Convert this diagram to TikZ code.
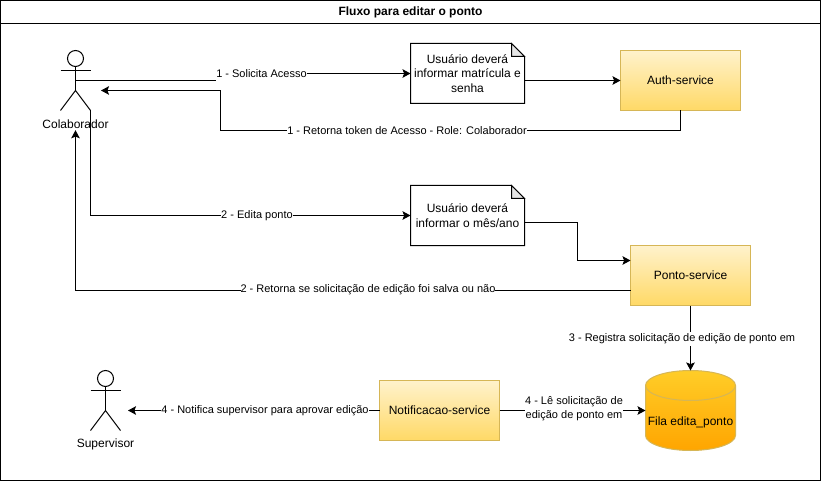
\documentclass[tikz,border=0pt]{standalone}
\usepackage{fontspec}
\setmainfont{Liberation Sans}
\usetikzlibrary{arrows.meta}
\definecolor{svctop}{HTML}{FFF2CC}
\definecolor{svcbot}{HTML}{FFD966}
\definecolor{svcline}{HTML}{D6B656}
\definecolor{filatop}{HTML}{FFCD28}
\definecolor{filabot}{HTML}{FFA500}
\begin{document}
\begin{tikzpicture}[
  x=0.75pt,
  y=-0.75pt,
  line width=0.75pt,
  frame/.style={draw=black,line width=1pt},
  svc/.style={draw=svcline,top color=svctop,bottom color=svcbot,outer sep=0pt,minimum width=90pt,minimum height=45pt,inner sep=0pt,font=\fontsize{9}{11}\selectfont},
  notebox/.style={outer sep=0pt,minimum width=85.5pt,minimum height=45pt,inner sep=0pt,align=center,font=\fontsize{9}{10.9}\selectfont},
  actorbox/.style={outer sep=0pt,minimum width=22.5pt,minimum height=45pt,inner sep=0pt},
  txt/.style={inner sep=1pt,font=\fontsize{9}{11}\selectfont},
  flow/.style={-{Stealth[length=6pt,width=6.4pt,inset=1.2pt]}},
  lab/.style={fill=white,inner sep=0pt,minimum height=10.5pt,align=center,font=\fontsize{8.25}{10.6}\selectfont}
]
\useasboundingbox (0,0) rectangle (821,481);
\fill[white] (0,0) rectangle (821,481);
\draw[frame] (0.5,0.5) rectangle (820.5,480.5);
\draw[frame] (0.5,23.5) -- (820.5,23.5);
\node[txt,font=\fontsize{9}{11}\selectfont\bfseries] (titulo) at (410.5,12) {Fluxo para editar o ponto};

\foreach \name/\px/\py/\txt in {colab/75.5/80.5/Colaborador,super/105.5/400.5/Supervisor} {
  \node[actorbox] (\name) at (\px,\py) {};
  \node[txt] (\name lab) at (\px,\py+43.5) {\txt};
  \draw (\px,\py-22) circle[radius=8];
  \draw (\px,\py-14) -- (\px,\py+10);
  \draw (\px-15,\py-10) -- (\px+15,\py-10);
  \draw (\px-15,\py+30) -- (\px,\py+10) -- (\px+15,\py+30);
}

\foreach \name/\py/\txt in {note1/73.5/{Usuário deverá\\informar matrícula e\\senha},note2/215.5/{Usuário deverá\\informar o mês/ano}} {
  \node[notebox] (\name) at (467.5,\py) {\txt};
  \draw (\name.north west) -- ++(101,0) -- ++(13,13) -- (\name.south east) -- (\name.south west) -- cycle;
  \draw[fill=black!10] (\name.north east) ++(-13,0) -- ++(0,13) -- ++(13,0) -- cycle;
}

\node[svc] (auth) at (680.5,80.5) {Auth-service};
\node[svc] (ponto) at (690.5,275.5) {Ponto-service};
\node[svc] (notif) at (439.5,410.5) {Notificacao-service};

\shadedraw[draw=svcline,top color=filatop,bottom color=filabot] (645.5,385.5) .. controls (645.5,377.25) and (665.75,370.5) .. (690.5,370.5) .. controls (715.25,370.5) and (735.5,377.25) .. (735.5,385.5) -- (735.5,435.5) .. controls (735.5,443.75) and (715.25,450.5) .. (690.5,450.5) .. controls (665.75,450.5) and (645.5,443.75) .. (645.5,435.5) -- cycle;
\draw[draw=svcline] (645.5,385.5) .. controls (645.5,393.75) and (665.75,400.5) .. (690.5,400.5) .. controls (715.25,400.5) and (735.5,393.75) .. (735.5,385.5);
\node[outer sep=0pt,minimum width=67.5pt,minimum height=60pt,inner sep=0pt] (fila) at (690.5,410.5) {};
\node[txt] (filatxt) at (690.5,422) {Fila edita\_ponto};

\coordinate (solbend) at (219,73.5);
\coordinate (retbend) at (220.5,130.5);
\coordinate (colabin) at (101,90.5);
\coordinate (note1out) at (524.5,80.5);
\coordinate (note2out) at (524.5,222.5);
\coordinate (note2bend) at (577.5,222.5);
\coordinate (pontoin) at (630.5,260.5);
\coordinate (pontoout) at (630.5,290.5);
\coordinate (superin) at (128,410.5);

\draw[flow] (colab.center) -| (solbend) -- (note1.west);
\draw[flow] (note1out) -- (auth.west);
\draw[flow] (auth.south) |- (retbend) |- (colabin);
\draw[flow] (colab.south east) |- (note2.west);
\draw[flow] (note2out) -- (note2bend) |- (pontoin);
\draw[flow] (pontoout) -| (colablab.south);
\draw[flow] (ponto.south) -- (fila.north);
\draw[flow] (notif.east) -- (fila.west);
\draw[flow] (notif.west) -- (superin);

\node[lab] (lab1) at (261.5,74) {1 - Solicita Acesso};
\node[lab] (lab2) at (407,130.5) {1 - Retorna token de Acesso - Role: Colaborador};
\node[lab] (lab3) at (257,215.5) {2 - Edita ponto};
\node[lab] (lab4) at (368,289.5) {2 - Retorna se solicitação de edição foi salva ou não};
\node[lab] (lab5) at (682,338.5) {3 - Registra solicitação de edição de ponto em};
\node[lab] (lab6) at (574,409) {4 - Lê solicitação de\\edição de ponto em};
\node[lab] (lab7) at (265,410.5) {4 - Notifica supervisor para aprovar edição};
\end{tikzpicture}
\end{document}
